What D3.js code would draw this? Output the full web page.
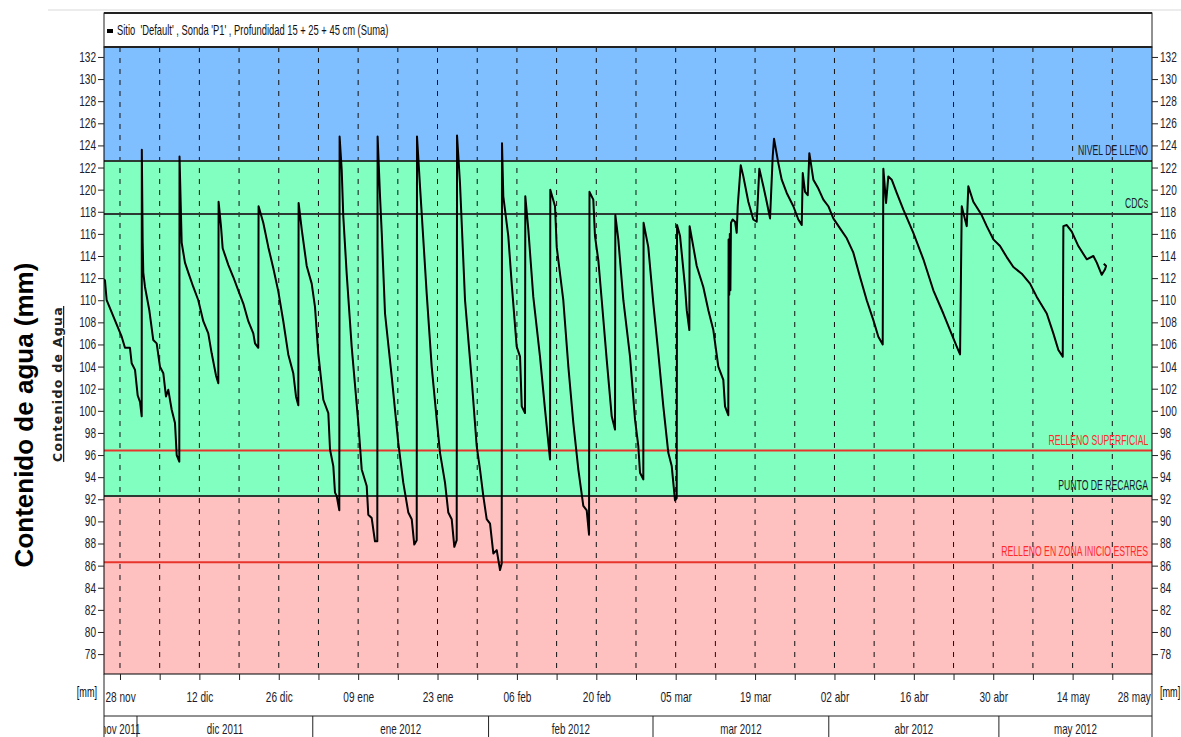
<!DOCTYPE html>
<html>
<head>
<meta charset="utf-8">
<script src="https://cdn.jsdelivr.net/npm/d3@7"></script>
<style>
  body { margin: 0; background: #fff; }
  text { font-family: "Liberation Sans", Arial, sans-serif; }
</style>
</head>
<body>
<svg id="grafico" width="1181" height="737"></svg>
<script>
// dias desde el 28 nov 2011, contenido de agua (mm)
const inicio = new Date(2011, 10, 28)
const dias = [
  -2.82, -2.65, -2.35, 0.30, 0.88, 1.76, 2.06, 2.65, 3.12, 3.53, 3.83,
  3.85, 4.00, 4.11, 4.41, 5.17, 5.87, 6.47, 7.05, 7.64, 8.11, 8.52, 9.12, 9.70, 10.0, 10.46,
  10.5, 10.88, 11.46, 12.05, 12.93, 13.81, 14.69, 15.57, 16.17, 16.93, 17.34,
  17.39, 17.81, 18.11, 19.10, 19.98, 20.86, 21.75, 22.63, 23.51, 23.81, 24.39,
  24.44, 25.27, 26.16, 27.04, 27.92, 28.80, 29.68, 30.56, 31.04, 31.45,
  31.50, 32.05, 32.93, 33.81, 34.39, 34.97, 35.86, 36.74, 37.04, 37.62, 37.92, 38.22, 38.68,
  38.73, 39.10, 39.38, 39.98, 40.86, 42.03, 42.63, 43.51, 43.79, 44.39, 44.97, 45.38,
  45.43, 45.86, 46.16, 46.74, 47.92, 49.08, 49.96, 50.85, 51.45, 51.90, 52.33,
  52.38, 52.91, 54.09, 54.97, 55.86, 56.44, 57.32, 57.90, 58.50, 58.96, 59.38,
  59.44, 59.96, 60.85, 62.03, 62.91, 63.49, 64.07, 64.67, 65.26, 65.84, 66.44, 67.02, 67.32,
  67.37, 67.60, 68.48, 69.08, 69.96, 70.55, 70.85, 71.43,
  71.48, 72.01, 72.89, 74.07, 74.96, 75.84,
  75.89, 76.72, 77.02, 78.18, 79.07, 79.95, 80.83, 81.71, 82.31, 82.72,
  82.80, 83.47, 83.77, 84.36, 84.96, 85.84, 86.72, 87.30,
  87.36, 87.88, 88.77, 89.95, 90.83, 91.41, 91.71, 92.29,
  92.34, 93.17, 94.06, 94.94, 95.82, 96.70, 97.30, 97.88, 98.18,
  98.24, 98.77, 99.65, 99.95, 100.41,
  100.46, 101.71, 102.87, 103.76, 104.64, 105.52, 106.40, 106.70, 107.28,
  107.33, 107.45, 107.55, 107.65, 107.75, 108.04, 108.47, 108.76,
  108.94, 109.47, 109.93, 110.81, 111.69, 112.29,
  112.75, 113.46, 114.05, 114.64,
  115.11, 115.34, 116.10, 116.70, 117.58, 118.75, 119.63, 120.23,
  120.41, 120.81, 121.29,
  121.57, 122.28, 123.16, 124.04, 124.92, 125.80, 126.98, 128.17, 129.33, 130.51, 131.69, 132.86, 133.74, 134.51,
  134.62, 135.10, 135.50, 136.10, 136.98, 138.15, 139.91, 141.68, 143.44, 145.20, 146.38, 147.57, 148.15,
  148.45, 148.73, 149.33,
  149.61, 150.49, 151.96, 152.85, 154.02, 155.20, 156.38, 157.55, 159.03, 160.49, 161.68, 163.44, 164.60, 165.49, 166.26,
  166.37, 166.97, 167.85, 169.01, 170.49, 171.66, 172.26, 173.14, 173.72, 173.9, 173.5
]
const agua = [
  111.9, 111.8, 110.0, 106.7, 105.7, 105.7, 104.3, 103.7, 101.4, 100.8, 99.5,
  123.6, 115.2, 112.5, 111.2, 109.1, 106.4, 106.1, 104.0, 103.4, 101.3, 101.9, 100.1, 98.9, 96.0, 95.4,
  123.0, 115.2, 113.4, 112.5, 111.2, 110.0, 108.1, 107.0, 105.2, 103.2, 102.5,
  118.9, 116.7, 114.7, 113.2, 112.1, 110.9, 109.7, 108.1, 107.0, 106.1, 105.7,
  118.5, 117.0, 114.8, 112.9, 110.8, 108.1, 105.1, 103.4, 101.3, 100.5,
  118.8, 116.4, 113.1, 111.5, 109.4, 105.2, 101.0, 99.8, 96.5, 95.0, 92.6, 92.3, 91.0,
  124.8, 121.8, 117.6, 112.4, 105.8, 98.9, 94.7, 93.2, 90.6, 90.3, 88.2, 88.2,
  124.8, 119.4, 116.1, 108.8, 103.1, 97.1, 93.5, 90.8, 90.2, 87.9, 88.3,
  124.8, 120.3, 110.6, 104.0, 99.2, 96.2, 93.5, 90.8, 90.2, 87.7, 88.3,
  124.9, 120.6, 110.0, 102.8, 96.8, 94.7, 92.3, 90.2, 89.8, 87.1, 87.4, 85.6, 86.2,
  124.2, 119.4, 115.8, 111.5, 105.8, 104.9, 100.4, 99.8,
  119.4, 116.4, 110.3, 104.9, 100.1, 95.6,
  120.0, 118.5, 114.8, 110.0, 104.0, 98.9, 94.7, 91.4, 91.0, 88.8,
  119.8, 119.1, 115.8, 113.6, 110.0, 104.6, 99.5, 98.3,
  117.7, 115.5, 110.0, 104.9, 99.2, 96.8, 94.4, 93.8,
  117.0, 114.8, 109.7, 105.2, 100.4, 96.2, 95.0, 91.9, 92.1,
  116.8, 115.8, 111.2, 109.1, 107.3,
  116.7, 113.1, 111.2, 109.1, 107.3, 104.0, 102.8, 100.4, 99.6,
  115.5, 110.5, 116.0, 110.9, 117.0, 117.3, 117.1, 116.1,
  118.5, 122.2, 121.2, 118.9, 117.3, 117.1,
  121.9, 120.3, 118.9, 117.4,
  123.0, 124.6, 122.4, 120.9, 119.7, 118.5, 117.3, 116.8,
  121.5, 119.8, 119.5,
  123.3, 120.9, 120.1, 119.1, 118.5, 117.4, 116.5, 115.6, 114.3, 112.1, 110.0, 108.2, 106.7, 106.0,
  121.9, 118.8, 121.2, 120.9, 119.7, 118.2, 116.1, 113.7, 110.9, 108.8, 107.3, 105.8, 105.1,
  118.5, 117.9, 116.7,
  120.3, 118.9, 117.7, 116.7, 115.5, 114.9, 113.9, 113.0, 112.4, 111.5, 110.3, 108.8, 107.0, 105.5, 104.9,
  116.7, 116.8, 116.2, 114.9, 113.7, 114.0, 113.4, 112.3, 112.8, 113.1, 113.3
]

// umbrales (mm)
const nivelNombres = ["NIVEL DE LLENO", "CDCs", "RELLENO SUPERFICIAL", "PUNTO DE RECARGA", "RELLENO EN ZONA INICIO ESTRES"]
const nivelValores = [122.6, 117.8, 96.4, 92.3, 86.3]

const ejeY = [76.2, 132.9]
const ejeX = [new Date(2011, 10, 25, 4, 20), new Date(2012, 4, 28)]
const ticksY = d3.range(78, 133, 2)
const mesesCortos = ["ene", "feb", "mar", "abr", "may", "jun", "jul", "ago", "sep", "oct", "nov", "dic"]
const leyenda = "Sitio  'Default' , Sonda 'P1' , Profundidad 15 + 25 + 45 cm (Suma)"
const tituloY = "Contenido de agua (mm)"
const subtituloY = "Contenido de Agua"

const izq = 104, der = 1152, arriba = 47, abajo = 674

const svg = d3.select("#grafico")
const x = d3.scaleTime().domain(ejeX).range([izq, der])
const y = d3.scaleLinear().domain(ejeY).range([abajo, arriba])

const es = d3.timeFormatLocale({
  dateTime: "%x %X", date: "%d/%m/%Y", time: "%H:%M:%S", periods: ["", ""],
  days: ["domingo","lunes","martes","miércoles","jueves","viernes","sábado"],
  shortDays: ["dom","lun","mar","mié","jue","vie","sáb"],
  months: mesesCortos, shortMonths: mesesCortos
})
const fmtDia = es.format("%d %b")
const fmtMes = es.format("%b %Y")

// letra estrecha (la captura original esta comprimida en horizontal)
function estrecho(sel, origen, k = 0.7) {
  sel.style("transform-box", "fill-box")
    .style("transform-origin", origen)
    .style("transform", `scaleX(${k})`)
}

const colorLinea = {"NIVEL DE LLENO": "#2b3a33", "CDCs": "#2b3a33", "RELLENO SUPERFICIAL": "#e8352c",
  "PUNTO DE RECARGA": "#2b3a33", "RELLENO EN ZONA INICIO ESTRES": "#e8352c"}
const colorTexto = {"NIVEL DE LLENO": "#1a1a2a", "CDCs": "#1a1a2a", "RELLENO SUPERFICIAL": "#ff2a2a",
  "PUNTO DE RECARGA": "#1a1a2a", "RELLENO EN ZONA INICIO ESTRES": "#ff2a2a"}

const defs = svg.append("defs")
defs.append("clipPath").attr("id", "zona")
  .append("rect").attr("x", izq).attr("y", arriba).attr("width", der - izq).attr("height", abajo - arriba)
defs.append("clipPath").attr("id", "zonaMes")
  .append("rect").attr("x", izq).attr("y", 716).attr("width", der - izq).attr("height", 30)

// linea gris de arriba
svg.append("line").attr("x1", 48).attr("x2", 1181).attr("y1", 10).attr("y2", 10)
  .attr("stroke", "#ececec").attr("stroke-width", 2)

// bandas de fondo
const lleno = nivelValores[0], recarga = nivelValores[3]
const bandas = [
  {de: ejeY[1], a: lleno, color: "#80bfff"},
  {de: lleno, a: recarga, color: "#80ffc0"},
  {de: recarga, a: ejeY[0], color: "#ffc0c0"}
]
svg.append("g").selectAll("rect").data(bandas).join("rect")
  .attr("x", izq).attr("width", der - izq)
  .attr("y", d => y(d.de)).attr("height", d => y(d.a) - y(d.de))
  .attr("fill", d => d.color)

// lineas verticales punteadas semanales
const semanas = d3.timeMonday.range(inicio, ejeX[1])
svg.append("g").selectAll("line").data(semanas).join("line")
  .attr("x1", d => x(d)).attr("x2", d => x(d))
  .attr("y1", arriba).attr("y2", abajo)
  .attr("stroke", "#111").attr("stroke-width", 1).attr("stroke-dasharray", "5,6")

// umbrales
const umbrales = nivelNombres.map((n, i) => ({nombre: n, valor: nivelValores[i]}))
svg.append("g").selectAll("line").data(umbrales).join("line")
  .attr("x1", izq).attr("x2", der)
  .attr("y1", d => y(d.valor)).attr("y2", d => y(d.valor))
  .attr("stroke", d => colorLinea[d.nombre]).attr("stroke-width", 2)
svg.append("g").selectAll("text").data(umbrales).join("text")
  .attr("x", der - 4).attr("y", d => y(d.valor) - 6)
  .attr("text-anchor", "end").attr("font-size", 14)
  .attr("fill", d => colorTexto[d.nombre])
  .text(d => d.nombre)
  .call(estrecho, "100% 50%", 0.62)

// serie
const serie = dias.map((d, i) => ({fecha: new Date(+inicio + d * 864e5), valor: agua[i]}))
console.log(serie.length)
const linea = d3.line().x(d => x(d.fecha)).y(d => y(d.valor))
svg.append("path").datum(serie)
  .attr("clip-path", "url(#zona)")
  .attr("d", linea)
  .attr("fill", "none").attr("stroke", "#000").attr("stroke-width", 2)
  .attr("stroke-linejoin", "round")

// marco
svg.append("rect").attr("x", izq).attr("y", arriba).attr("width", der - izq).attr("height", abajo - arriba)
  .attr("fill", "none").attr("stroke", "#000").attr("stroke-width", 1)

// cabecera con leyenda
svg.append("rect").attr("x", izq).attr("y", 13).attr("width", der - izq).attr("height", arriba - 13)
  .attr("fill", "#fff").attr("stroke", "#222").attr("stroke-width", 1)
svg.append("line").attr("x1", izq).attr("x2", der).attr("y1", 13).attr("y2", 13)
  .attr("stroke", "#222").attr("stroke-width", 2)
svg.append("line").attr("x1", izq).attr("x2", der).attr("y1", arriba).attr("y2", arriba)
  .attr("stroke", "#222").attr("stroke-width", 2)
svg.append("rect").attr("x", 107).attr("y", 29).attr("width", 6).attr("height", 4).attr("fill", "#000")
svg.append("text").attr("x", 117).attr("y", 35.5).attr("font-size", 14).attr("fill", "#111")
  .style("white-space", "pre").text(leyenda)
  .call(estrecho, "0% 50%", 0.67)

// ejes y
const axisL = d3.axisLeft(y).tickValues(ticksY).tickSize(6).tickPadding(2)
const axisR = d3.axisRight(y).tickValues(ticksY).tickSize(6).tickPadding(2)
const gL = svg.append("g").attr("transform", `translate(${izq},0)`).call(axisL)
const gR = svg.append("g").attr("transform", `translate(${der},0)`).call(axisR)
for (const [g, origen] of [[gL, "100% 50%"], [gR, "0% 50%"]]) {
  g.select(".domain").remove()
  g.attr("font-family", null)
  g.selectAll("text").attr("font-size", 14).attr("fill", "#1c1c2c").call(estrecho, origen, 0.72)
  g.selectAll("line").attr("stroke", "#222")
}

// eje x (fechas)
const axisB = d3.axisBottom(x).tickValues(d3.timeMonday.range(inicio, d3.timeDay.offset(ejeX[1], 1)))
  .tickSize(6).tickPadding(12)
  .tickFormat(d => Math.round((d - inicio) / (7 * 864e5)) % 2 === 0 ? fmtDia(d) : "")
const gB = svg.append("g").attr("transform", `translate(0,${abajo})`).call(axisB)
gB.select(".domain").remove()
gB.attr("font-family", null)
gB.selectAll("text").attr("font-size", 14).attr("fill", "#1c1c2c").call(estrecho, "50% 50%", 0.72)
gB.selectAll("line").attr("stroke", "#222")
// la ultima fecha cae en el borde: se alinea por la derecha para que quepa
const ultima = gB.selectAll(".tick").filter(d => x(d) > der - 2)
ultima.select("line").remove()
ultima.select("text").attr("text-anchor", "end").attr("x", -2).call(estrecho, "100% 50%", 0.72)

// filas de meses
svg.append("line").attr("x1", izq).attr("x2", der).attr("y1", 716).attr("y2", 716).attr("stroke", "#222")
svg.append("line").attr("x1", izq).attr("x2", izq).attr("y1", abajo).attr("y2", 737).attr("stroke", "#222")
svg.append("line").attr("x1", der).attr("x2", der).attr("y1", abajo).attr("y2", 737).attr("stroke", "#222")
const meses = d3.timeMonth.range(new Date(2011, 10, 1), new Date(2012, 5, 1))
svg.append("g").selectAll("line").data(meses.filter(m => x(m) > izq && x(m) < der)).join("line")
  .attr("x1", d => x(d)).attr("x2", d => x(d)).attr("y1", 716).attr("y2", 737).attr("stroke", "#222")
svg.append("g").attr("clip-path", "url(#zonaMes)")
  .selectAll("text").data(meses).join("text")
  .attr("x", d => {
    const a = Math.max(x(d), izq), b = Math.min(x(d3.timeMonth.offset(d, 1)), der)
    return (a + b) / 2
  })
  .attr("y", 734).attr("text-anchor", "middle").attr("font-size", 14).attr("fill", "#1c1c2c")
  .text(d => fmtMes(d))
  .call(estrecho, "50% 50%", 0.7)

// [mm]
svg.append("text").attr("x", 97).attr("y", 697).attr("text-anchor", "end").attr("font-size", 14)
  .text("[mm]").call(estrecho, "100% 50%", 0.65)
svg.append("text").attr("x", 1160).attr("y", 697).attr("font-size", 14)
  .text("[mm]").call(estrecho, "0% 50%", 0.65)

// titulos del eje y
svg.append("text").attr("transform", "translate(33,415) rotate(-90)")
  .attr("text-anchor", "middle").attr("font-size", 26).attr("font-weight", "bold")
  .attr("fill", "#000")
  .text(tituloY)
svg.append("text").attr("transform", "translate(62,384) rotate(-90)")
  .attr("text-anchor", "middle").attr("font-size", 12.5).attr("font-weight", "bold")
  .attr("letter-spacing", 1.3)
  .style("font-family", "'DejaVu Sans', Verdana, sans-serif").attr("fill", "#222")
  .attr("text-decoration", "underline")
  .text(subtituloY)
</script>
</body>
</html>
